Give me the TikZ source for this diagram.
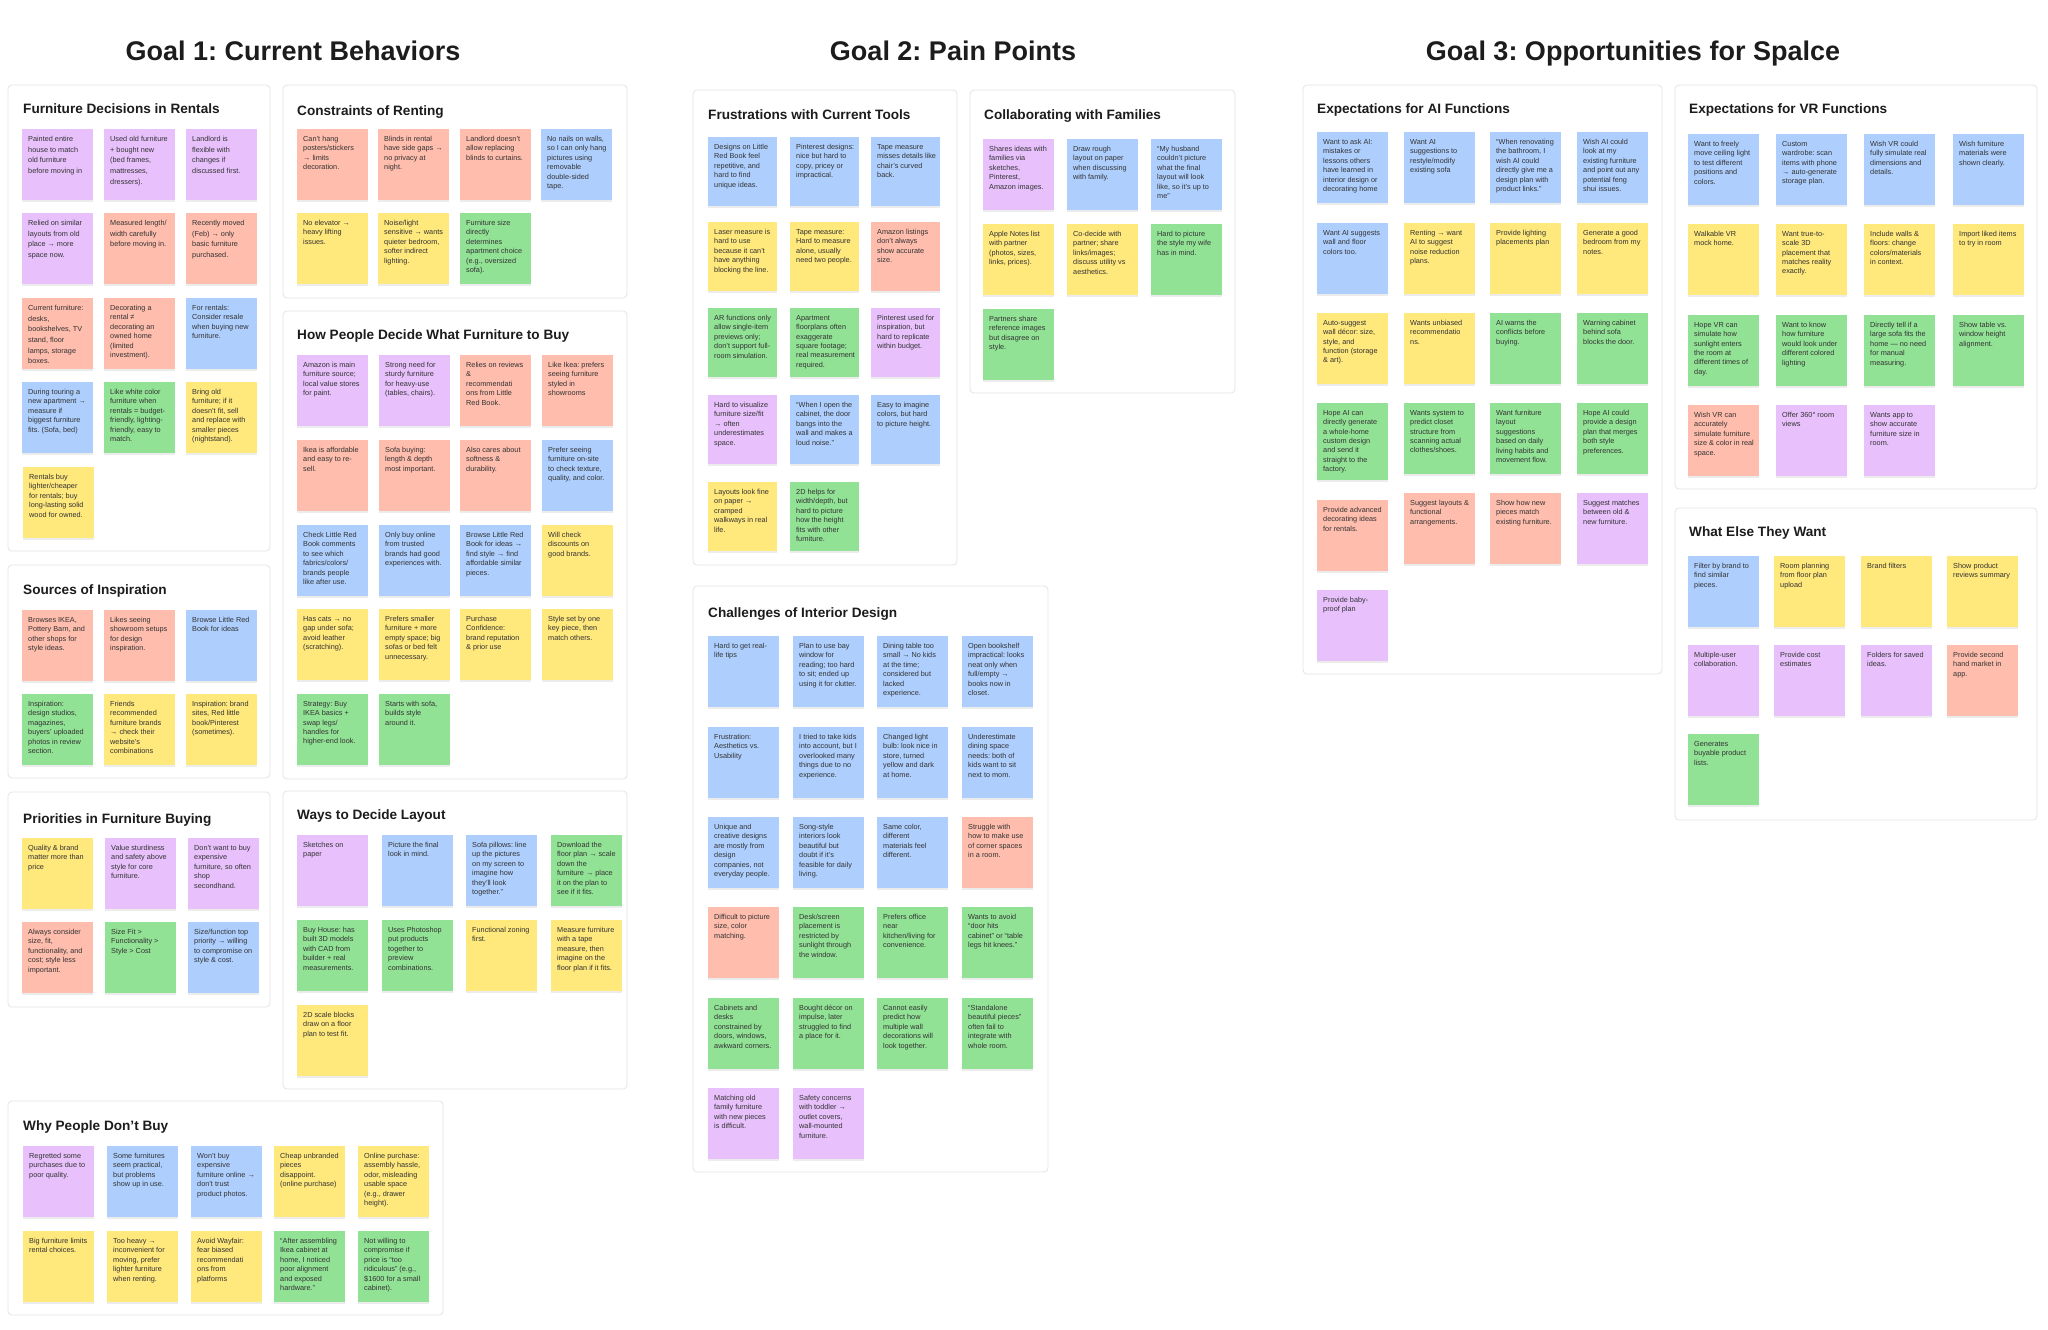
\documentclass[tikz,border=0pt]{standalone}
\usepackage{fontspec}
\setmainfont{Liberation Sans}
\usepackage{xcolor}
\usepackage{tikz}
\usetikzlibrary{shadows}
\definecolor{notepurple}{RGB}{232,193,252}
\definecolor{notesalmon}{RGB}{255,189,173}
\definecolor{noteblue}{RGB}{174,207,254}
\definecolor{notegreen}{RGB}{146,226,150}
\definecolor{noteyellow}{RGB}{255,232,124}
\definecolor{panelline}{RGB}{228,228,228}
\definecolor{notetext}{RGB}{50,50,50}
\definecolor{titlecol}{RGB}{28,28,28}
\frenchspacing

% sticky: [text options]{name}{x}{y}{colour}{text}
\newcommand{\stickynote}[6][]{%
  \node[sticky, fill=#5] (#2) at (#3,#4) {};
  \node[stickytext, #1] (#2-txt) at ([shift={(6pt,-7pt)}]#2.north west) {#6};}

\begin{document}
\begin{tikzpicture}[
    x=1pt, y=-1pt,
    sticky/.style={anchor=north west, minimum width=71pt, minimum height=71pt, inner sep=0,
                   drop shadow={shadow xshift=0pt, shadow yshift=-1.5pt, opacity=0.15}},
    stickytext/.style={anchor=north west, inner sep=0, align=left, text=notetext,
                       font=\fontsize{7.3}{9.4}\selectfont},
    loose/.style={font=\fontsize{7.3}{10.7}\selectfont},
    panel/.style={draw=panelline, fill=white, line width=0.8pt, rounded corners=4pt},
    paneltitle/.style={anchor=base west, inner sep=0, text=titlecol,
                       font=\bfseries\fontsize{13.6}{16}\selectfont},
    goaltitle/.style={anchor=base, inner sep=0, text=titlecol,
                      font=\bfseries\fontsize{27}{32}\selectfont},
]
    \fill[white] (0,0) rectangle (2048,1330);
    \useasboundingbox (0,0) rectangle (2048,1330);

    % goal headings
    \node[goaltitle] (goal1) at (293,60) {Goal 1: Current Behaviors};
    \node[goaltitle] (goal2) at (953,60) {Goal 2: Pain Points};
    \node[goaltitle] (goal3) at (1633,60) {Goal 3: Opportunities for Spalce};

    % panels
    \draw[panel] (8,85) rectangle (270,551);
    \draw[panel] (8,565) rectangle (270,778);
    \draw[panel] (8,792) rectangle (270,1007);
    \draw[panel] (8,1101) rectangle (443,1315);
    \draw[panel] (283,85) rectangle (627,298);
    \draw[panel] (283,311) rectangle (627,779);
    \draw[panel] (283,791) rectangle (627,1089);
    \draw[panel] (693,90) rectangle (957,565);
    \draw[panel] (970,90) rectangle (1235,393);
    \draw[panel] (693,586) rectangle (1048,1172);
    \draw[panel] (1303,85) rectangle (1662,674);
    \draw[panel] (1675,85) rectangle (2037,489);
    \draw[panel] (1675,508) rectangle (2037,820);

    \node[paneltitle] (fdtitle) at (23,113) {Furniture Decisions in Rentals};
    \node[paneltitle] (sititle) at (23,594) {Sources of Inspiration};
    \node[paneltitle] (prtitle) at (23,823) {Priorities in Furniture Buying};
    \node[paneltitle] (wbtitle) at (23,1130) {Why People Don’t Buy};
    \node[paneltitle] (crtitle) at (297,115) {Constraints of Renting};
    \node[paneltitle] (hdtitle) at (297,339) {How People Decide What Furniture to Buy};
    \node[paneltitle] (wltitle) at (297,819) {Ways to Decide Layout};
    \node[paneltitle] (fttitle) at (708,119) {Frustrations with Current Tools};
    \node[paneltitle] (cftitle) at (984,119) {Collaborating with Families};
    \node[paneltitle] (cititle) at (708,617) {Challenges of Interior Design};
    \node[paneltitle] (aititle) at (1317,113) {Expectations for AI Functions};
    \node[paneltitle] (vrtitle) at (1689,113) {Expectations for VR Functions};
    \node[paneltitle] (wetitle) at (1689,536) {What Else They Want};

    % Furniture Decisions in Rentals
    \stickynote[loose]{fd1}{22}{129}{notepurple}{Painted entire\\house to match\\old furniture\\before moving in}
    \stickynote[loose]{fd2}{104}{129}{notepurple}{Used old furniture\\+ bought new\\(bed frames,\\mattresses,\\dressers).}
    \stickynote[loose]{fd3}{186}{129}{notepurple}{Landlord is\\flexible with\\changes if\\discussed first.}
    \stickynote[loose]{fd4}{22}{213}{notepurple}{Relied on similar\\layouts from old\\place → more\\space now.}
    \stickynote[loose]{fd5}{104}{213}{notesalmon}{Measured length/\\width carefully\\before moving in.}
    \stickynote[loose]{fd6}{186}{213}{notesalmon}{Recently moved\\(Feb) → only\\basic furniture\\purchased.}
    \stickynote[loose]{fd7}{22}{298}{notesalmon}{Current furniture:\\desks,\\bookshelves, TV\\stand, floor\\lamps, storage\\boxes.}
    \stickynote{fd8}{104}{298}{notesalmon}{Decorating a\\rental ≠\\decorating an\\owned home\\(limited\\investment).}
    \stickynote{fd9}{186}{298}{noteblue}{For rentals:\\Consider resale\\when buying new\\furniture.}
    \stickynote{fd10}{22}{382}{noteblue}{During touring a\\new apartment →\\measure if\\biggest furniture\\fits. (Sofa, bed)}
    \stickynote{fd11}{104}{382}{notegreen}{Like white color\\furniture when\\rentals = budget-\\friendly, lighting-\\friendly, easy to\\match.}
    \stickynote{fd12}{186}{382}{noteyellow}{Bring old\\furniture; if it\\doesn't fit, sell\\and replace with\\smaller pieces\\(nightstand).}
    \stickynote{fd13}{23}{467}{noteyellow}{Rentals buy\\lighter/cheaper\\for rentals; buy\\long-lasting solid\\wood for owned.}

    % Sources of Inspiration
    \stickynote{si1}{22}{610}{notesalmon}{Browses IKEA,\\Pottery Barn, and\\other shops for\\style ideas.}
    \stickynote{si2}{104}{610}{notesalmon}{Likes seeing\\showroom setups\\for design\\inspiration.}
    \stickynote{si3}{186}{610}{noteblue}{Browse Little Red\\Book for ideas}
    \stickynote{si4}{22}{694}{notegreen}{Inspiration:\\design studios,\\magazines,\\buyers' uploaded\\photos in review\\section.}
    \stickynote{si5}{104}{694}{noteyellow}{Friends\\recommended\\furniture brands\\→ check their\\website's\\combinations}
    \stickynote{si6}{186}{694}{noteyellow}{Inspiration: brand\\sites, Red little\\book/Pinterest\\(sometimes).}

    % Priorities in Furniture Buying
    \stickynote{pr1}{22}{838}{noteyellow}{Quality \& brand\\matter more than\\price}
    \stickynote{pr2}{105}{838}{notepurple}{Value sturdiness\\and safety above\\style for core\\furniture.}
    \stickynote{pr3}{188}{838}{notepurple}{Don't want to buy\\expensive\\furniture, so often\\shop\\secondhand.}
    \stickynote{pr4}{22}{922}{notesalmon}{Always consider\\size, fit,\\functionality, and\\cost; style less\\important.}
    \stickynote{pr5}{105}{922}{notegreen}{Size Fit >\\Functionality >\\Style > Cost}
    \stickynote{pr6}{188}{922}{noteblue}{Size/function top\\priority → willing\\to compromise on\\style \& cost.}

    % Why People Don't Buy
    \stickynote{wb1}{23}{1146}{notepurple}{Regretted some\\purchases due to\\poor quality.}
    \stickynote{wb2}{107}{1146}{noteblue}{Some furnitures\\seem practical,\\but problems\\show up in use.}
    \stickynote{wb3}{191}{1146}{noteblue}{Won't buy\\expensive\\furniture online →\\don't trust\\product photos.}
    \stickynote{wb4}{274}{1146}{noteyellow}{Cheap unbranded\\pieces\\disappoint.\\(online purchase)}
    \stickynote{wb5}{358}{1146}{noteyellow}{Online purchase:\\assembly hassle,\\odor, misleading\\usable space\\(e.g., drawer\\height).}
    \stickynote{wb6}{23}{1231}{noteyellow}{Big furniture limits\\rental choices.}
    \stickynote{wb7}{107}{1231}{noteyellow}{Too heavy →\\inconvenient for\\moving, prefer\\lighter furniture\\when renting.}
    \stickynote{wb8}{191}{1231}{noteyellow}{Avoid Wayfair:\\fear biased\\recommendati\\ons from\\platforms}
    \stickynote{wb9}{274}{1231}{notegreen}{“After assembling\\Ikea cabinet at\\home, I noticed\\poor alignment\\and exposed\\hardware.”}
    \stickynote{wb10}{358}{1231}{notegreen}{Not willing to\\compromise if\\price is “too\\ridiculous” (e.g.,\\\$1600 for a small\\cabinet).}

    % Constraints of Renting
    \stickynote{cr1}{297}{129}{notesalmon}{Can't hang\\posters/stickers\\→ limits\\decoration.}
    \stickynote{cr2}{378}{129}{notesalmon}{Blinds in rental\\have side gaps →\\no privacy at\\night.}
    \stickynote{cr3}{460}{129}{notesalmon}{Landlord doesn't\\allow replacing\\blinds to curtains.}
    \stickynote{cr4}{541}{129}{noteblue}{No nails on walls,\\so I can only hang\\pictures using\\removable\\double-sided\\tape.}
    \stickynote{cr5}{297}{213}{noteyellow}{No elevator →\\heavy lifting\\issues.}
    \stickynote{cr6}{378}{213}{noteyellow}{Noise/light\\sensitive → wants\\quieter bedroom,\\softer indirect\\lighting.}
    \stickynote{cr7}{460}{213}{notegreen}{Furniture size\\directly\\determines\\apartment choice\\(e.g., oversized\\sofa).}

    % How People Decide What Furniture to Buy
    \stickynote{hd1}{297}{355}{notepurple}{Amazon is main\\furniture source;\\local value stores\\for paint.}
    \stickynote{hd2}{379}{355}{notepurple}{Strong need for\\sturdy furniture\\for heavy-use\\(tables, chairs).}
    \stickynote{hd3}{460}{355}{notesalmon}{Relies on reviews\\\&\\recommendati\\ons from Little\\Red Book.}
    \stickynote{hd4}{542}{355}{notesalmon}{Like Ikea: prefers\\seeing furniture\\styled in\\showrooms}
    \stickynote{hd5}{297}{440}{notesalmon}{Ikea is affordable\\and easy to re-\\sell.}
    \stickynote{hd6}{379}{440}{notesalmon}{Sofa buying:\\length \& depth\\most important.}
    \stickynote{hd7}{460}{440}{notesalmon}{Also cares about\\softness \&\\durability.}
    \stickynote{hd8}{542}{440}{noteblue}{Prefer seeing\\furniture on-site\\to check texture,\\quality, and color.}
    \stickynote{hd9}{297}{525}{noteblue}{Check Little Red\\Book comments\\to see which\\fabrics/colors/\\brands people\\like after use.}
    \stickynote{hd10}{379}{525}{noteblue}{Only buy online\\from trusted\\brands had good\\experiences with.}
    \stickynote{hd11}{460}{525}{noteblue}{Browse Little Red\\Book for ideas →\\find style → find\\affordable similar\\pieces.}
    \stickynote{hd12}{542}{525}{noteyellow}{Will check\\discounts on\\good brands.}
    \stickynote{hd13}{297}{609}{noteyellow}{Has cats → no\\gap under sofa;\\avoid leather\\(scratching).}
    \stickynote{hd14}{379}{609}{noteyellow}{Prefers smaller\\furniture + more\\empty space; big\\sofas or bed felt\\unnecessary.}
    \stickynote{hd15}{460}{609}{noteyellow}{Purchase\\Confidence:\\brand reputation\\\& prior use}
    \stickynote{hd16}{542}{609}{noteyellow}{Style set by one\\key piece, then\\match others.}
    \stickynote{hd17}{297}{694}{notegreen}{Strategy: Buy\\IKEA basics +\\swap legs/\\handles for\\higher-end look.}
    \stickynote{hd18}{379}{694}{notegreen}{Starts with sofa,\\builds style\\around it.}

    % Ways to Decide Layout
    \stickynote{wl1}{297}{835}{notepurple}{Sketches on\\paper}
    \stickynote{wl2}{382}{835}{noteblue}{Picture the final\\look in mind.}
    \stickynote{wl3}{466}{835}{noteblue}{Sofa pillows: line\\up the pictures\\on my screen to\\imagine how\\they'll look\\together.”}
    \stickynote{wl4}{551}{835}{notegreen}{Download the\\floor plan → scale\\down the\\furniture → place\\it on the plan to\\see if it fits.}
    \stickynote{wl5}{297}{920}{notegreen}{Buy House: has\\built 3D models\\with CAD from\\builder + real\\measurements.}
    \stickynote{wl6}{382}{920}{notegreen}{Uses Photoshop\\put products\\together to\\preview\\combinations.}
    \stickynote{wl7}{466}{920}{noteyellow}{Functional zoning\\first.}
    \stickynote{wl8}{551}{920}{noteyellow}{Measure furniture\\with a tape\\measure, then\\imagine on the\\floor plan if it fits.}
    \stickynote{wl9}{297}{1005}{noteyellow}{2D scale blocks\\draw on a floor\\plan to test fit.}

    % Frustrations with Current Tools
    \begin{scope}[sticky/.append style={minimum width=69pt, minimum height=69pt}]
    \stickynote{ft1}{708}{137}{noteblue}{Designs on Little\\Red Book feel\\repetitive, and\\hard to find\\unique ideas.}
    \stickynote{ft2}{790}{137}{noteblue}{Pinterest designs:\\nice but hard to\\copy, pricey or\\impractical.}
    \stickynote{ft3}{871}{137}{noteblue}{Tape measure\\misses details like\\chair's curved\\back.}
    \stickynote{ft4}{708}{222}{noteyellow}{Laser measure is\\hard to use\\because it can't\\have anything\\blocking the line.}
    \stickynote{ft5}{790}{222}{noteyellow}{Tape measure:\\Hard to measure\\alone, usually\\need two people.}
    \stickynote{ft6}{871}{222}{notesalmon}{Amazon listings\\don't always\\show accurate\\size.}
    \stickynote{ft7}{708}{308}{notegreen}{AR functions only\\allow single-item\\previews only;\\don't support full-\\room simulation.}
    \stickynote{ft8}{790}{308}{notegreen}{Apartment\\floorplans often\\exaggerate\\square footage;\\real measurement\\required.}
    \stickynote{ft9}{871}{308}{notepurple}{Pinterest used for\\inspiration, but\\hard to replicate\\within budget.}
    \stickynote{ft10}{708}{395}{notepurple}{Hard to visualize\\furniture size/fit\\→ often\\underestimates\\space.}
    \stickynote{ft11}{790}{395}{noteblue}{“When I open the\\cabinet, the door\\bangs into the\\wall and makes a\\loud noise.”}
    \stickynote{ft12}{871}{395}{noteblue}{Easy to imagine\\colors, but hard\\to picture height.}
    \stickynote{ft13}{708}{482}{noteyellow}{Layouts look fine\\on paper →\\cramped\\walkways in real\\life.}
    \stickynote{ft14}{790}{482}{notegreen}{2D helps for\\width/depth, but\\hard to picture\\how the height\\fits with other\\furniture.}
    \end{scope}

    % Collaborating with Families
    \stickynote{cf1}{983}{139}{notepurple}{Shares ideas with\\families via\\sketches,\\Pinterest,\\Amazon images.}
    \stickynote{cf2}{1067}{139}{noteblue}{Draw rough\\layout on paper\\when discussing\\with family.}
    \stickynote{cf3}{1151}{139}{noteblue}{“My husband\\couldn't picture\\what the final\\layout will look\\like, so it's up to\\me”}
    \stickynote{cf4}{983}{224}{noteyellow}{Apple Notes list\\with partner\\(photos, sizes,\\links, prices).}
    \stickynote{cf5}{1067}{224}{noteyellow}{Co-decide with\\partner; share\\links/images;\\discuss utility vs\\aesthetics.}
    \stickynote{cf6}{1151}{224}{notegreen}{Hard to picture\\the style my wife\\has in mind.}
    \stickynote{cf7}{983}{309}{notegreen}{Partners share\\reference images\\but disagree on\\style.}

    % Challenges of Interior Design
    \stickynote{ci1}{708}{636}{noteblue}{Hard to get real-\\life tips}
    \stickynote{ci2}{793}{636}{noteblue}{Plan to use bay\\window for\\reading; too hard\\to sit; ended up\\using it for clutter.}
    \stickynote{ci3}{877}{636}{noteblue}{Dining table too\\small → No kids\\at the time;\\considered but\\lacked\\experience.}
    \stickynote{ci4}{962}{636}{noteblue}{Open bookshelf\\impractical: looks\\neat only when\\full/empty →\\books now in\\closet.}
    \stickynote{ci5}{708}{727}{noteblue}{Frustration:\\Aesthetics vs.\\Usability}
    \stickynote{ci6}{793}{727}{noteblue}{I tried to take kids\\into account, but I\\overlooked many\\things due to no\\experience.}
    \stickynote{ci7}{877}{727}{noteblue}{Changed light\\bulb: look nice in\\store, turned\\yellow and dark\\at home.}
    \stickynote{ci8}{962}{727}{noteblue}{Underestimate\\dining space\\needs: both of\\kids want to sit\\next to mom.}
    \stickynote{ci9}{708}{817}{noteblue}{Unique and\\creative designs\\are mostly from\\design\\companies, not\\everyday people.}
    \stickynote{ci10}{793}{817}{noteblue}{Song-style\\interiors look\\beautiful but\\doubt if it's\\feasible for daily\\living.}
    \stickynote{ci11}{877}{817}{noteblue}{Same color,\\different\\materials feel\\different.}
    \stickynote{ci12}{962}{817}{notesalmon}{Struggle with\\how to make use\\of corner spaces\\in a room.}
    \stickynote{ci13}{708}{907}{notesalmon}{Difficult to picture\\size, color\\matching.}
    \stickynote{ci14}{793}{907}{notegreen}{Desk/screen\\placement is\\restricted by\\sunlight through\\the window.}
    \stickynote{ci15}{877}{907}{notegreen}{Prefers office\\near\\kitchen/living for\\convenience.}
    \stickynote{ci16}{962}{907}{notegreen}{Wants to avoid\\“door hits\\cabinet” or “table\\legs hit knees.”}
    \stickynote{ci17}{708}{998}{notegreen}{Cabinets and\\desks\\constrained by\\doors, windows,\\awkward corners.}
    \stickynote{ci18}{793}{998}{notegreen}{Bought décor on\\impulse, later\\struggled to find\\a place for it.}
    \stickynote{ci19}{877}{998}{notegreen}{Cannot easily\\predict how\\multiple wall\\decorations will\\look together.}
    \stickynote{ci20}{962}{998}{notegreen}{“Standalone\\beautiful pieces”\\often fail to\\integrate with\\whole room.}
    \stickynote{ci21}{708}{1088}{notepurple}{Matching old\\family furniture\\with new pieces\\is difficult.}
    \stickynote{ci22}{793}{1088}{notepurple}{Safety concerns\\with toddler →\\outlet covers,\\wall-mounted\\furniture.}

    % Expectations for AI Functions
    \stickynote{ai1}{1317}{132}{noteblue}{Want to ask AI:\\mistakes or\\lessons others\\have learned in\\interior design or\\decorating home}
    \stickynote{ai2}{1404}{132}{noteblue}{Want AI\\suggestions to\\restyle/modify\\existing sofa}
    \stickynote{ai3}{1490}{132}{noteblue}{“When renovating\\the bathroom, I\\wish AI could\\directly give me a\\design plan with\\product links.”}
    \stickynote{ai4}{1577}{132}{noteblue}{Wish AI could\\look at my\\existing furniture\\and point out any\\potential feng\\shui issues.}
    \stickynote{ai5}{1317}{223}{noteblue}{Want AI suggests\\wall and floor\\colors too.}
    \stickynote{ai6}{1404}{223}{noteyellow}{Renting → want\\AI to suggest\\noise reduction\\plans.}
    \stickynote{ai7}{1490}{223}{noteyellow}{Provide lighting\\placements plan}
    \stickynote{ai8}{1577}{223}{noteyellow}{Generate a good\\bedroom from my\\notes.}
    \stickynote{ai9}{1317}{313}{noteyellow}{Auto-suggest\\wall décor: size,\\style, and\\function (storage\\\& art).}
    \stickynote{ai10}{1404}{313}{noteyellow}{Wants unbiased\\recommendatio\\ns.}
    \stickynote{ai11}{1490}{313}{notegreen}{AI warns the\\conflicts before\\buying.}
    \stickynote{ai12}{1577}{313}{notegreen}{Warning cabinet\\behind sofa\\blocks the door.}
    \begin{scope}[sticky/.append style={minimum height=77pt}]
    \stickynote{ai13}{1317}{403}{notegreen}{Hope AI can\\directly generate\\a whole-home\\custom design\\and send it\\straight to the\\factory.}
    \end{scope}
    \stickynote{ai14}{1404}{403}{notegreen}{Wants system to\\predict closet\\structure from\\scanning actual\\clothes/shoes.}
    \stickynote{ai15}{1490}{403}{notegreen}{Want furniture\\layout\\suggestions\\based on daily\\living habits and\\movement flow.}
    \stickynote{ai16}{1577}{403}{notegreen}{Hope AI could\\provide a design\\plan that merges\\both style\\preferences.}
    \stickynote{ai17}{1317}{500}{notesalmon}{Provide advanced\\decorating ideas\\for rentals.}
    \stickynote{ai18}{1404}{493}{notesalmon}{Suggest layouts \&\\functional\\arrangements.}
    \stickynote{ai19}{1490}{493}{notesalmon}{Show how new\\pieces match\\existing furniture.}
    \stickynote{ai20}{1577}{493}{notepurple}{Suggest matches\\between old \&\\new furniture.}
    \stickynote{ai21}{1317}{590}{notepurple}{Provide baby-\\proof plan}

    % Expectations for VR Functions
    \stickynote{vr1}{1688}{134}{noteblue}{Want to freely\\move ceiling light\\to test different\\positions and\\colors.}
    \stickynote{vr2}{1776}{134}{noteblue}{Custom\\wardrobe: scan\\items with phone\\→ auto-generate\\storage plan.}
    \stickynote{vr3}{1864}{134}{noteblue}{Wish VR could\\fully simulate real\\dimensions and\\details.}
    \stickynote{vr4}{1953}{134}{noteblue}{Wish furniture\\materials were\\shown clearly.}
    \stickynote{vr5}{1688}{224}{noteyellow}{Walkable VR\\mock home.}
    \stickynote{vr6}{1776}{224}{noteyellow}{Want true-to-\\scale 3D\\placement that\\matches reality\\exactly.}
    \stickynote{vr7}{1864}{224}{noteyellow}{Include walls \&\\floors: change\\colors/materials\\in context.}
    \stickynote{vr8}{1953}{224}{noteyellow}{Import liked items\\to try in room}
    \stickynote{vr9}{1688}{315}{notegreen}{Hope VR can\\simulate how\\sunlight enters\\the room at\\different times of\\day.}
    \stickynote{vr10}{1776}{315}{notegreen}{Want to know\\how furniture\\would look under\\different colored\\lighting}
    \stickynote{vr11}{1864}{315}{notegreen}{Directly tell if a\\large sofa fits the\\home — no need\\for manual\\measuring.}
    \stickynote{vr12}{1953}{315}{notegreen}{Show table vs.\\window height\\alignment.}
    \stickynote{vr13}{1688}{405}{notesalmon}{Wish VR can\\accurately\\simulate furniture\\size \& color in real\\space.}
    \stickynote{vr14}{1776}{405}{notepurple}{Offer 360° room\\views}
    \stickynote{vr15}{1864}{405}{notepurple}{Wants app to\\show accurate\\furniture size in\\room.}

    % What Else They Want
    \stickynote{we1}{1688}{556}{noteblue}{Filter by brand to\\find similar\\pieces.}
    \stickynote{we2}{1774}{556}{noteyellow}{Room planning\\from floor plan\\upload}
    \stickynote{we3}{1861}{556}{noteyellow}{Brand filters}
    \stickynote{we4}{1947}{556}{noteyellow}{Show product\\reviews summary}
    \stickynote{we5}{1688}{645}{notepurple}{Multiple-user\\collaboration.}
    \stickynote{we6}{1774}{645}{notepurple}{Provide cost\\estimates}
    \stickynote{we7}{1861}{645}{notepurple}{Folders for saved\\ideas.}
    \stickynote{we8}{1947}{645}{notesalmon}{Provide second\\hand market in\\app.}
    \stickynote{we9}{1688}{734}{notegreen}{Generates\\buyable product\\lists.}
\end{tikzpicture}
\end{document}
